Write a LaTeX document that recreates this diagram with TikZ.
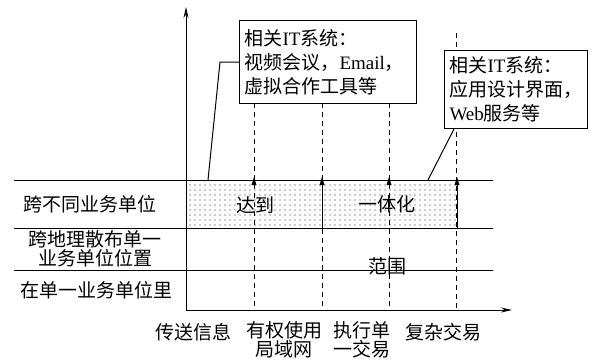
\documentclass[tikz,border=0pt]{standalone}
\usepackage{fontspec}
\setmainfont{Noto Sans CJK SC}
\newfontfamily\latin{Liberation Serif}
\usetikzlibrary{arrows.meta,patterns.meta}
\tikzset{
  lbl/.style={font=\fontsize{19}{19}\selectfont, align=center, inner sep=0pt},
  itbox/.style={draw, fill=white, anchor=north west, align=left, inner xsep=5pt,
    inner ysep=0pt, font=\fontsize{19}{24}\selectfont},
  dashline/.style={line width=1pt, dash pattern=on 5pt off 4pt},
}
\begin{document}
\begin{tikzpicture}[x=1pt,y=-1pt,line width=1pt]
      \useasboundingbox (0,0) rectangle (594,360);
      \coordinate (org) at (186,310);
      \coordinate (ytop) at (186,7);
      \coordinate (xend) at (512,310);
      \coordinate (pa) at (208,180);
      \coordinate (pb) at (428,180);

      % shaded band
      \fill[pattern={Dots[distance=5pt,radius=0.6pt]}, pattern color=black!85]
        (186,180) rectangle (457,228);

      % levels
      \foreach \y in {180,228,270}
        \draw (14,\y) -- (493,\y);

      % steps
      \draw[dashline] (456,33) -- (456,310);
      \foreach \x in {254,322,389}
        \draw[dashline] (\x,103) -- (\x,310);
      \draw (322,180) -- (322,228);
      \draw (457,180) -- (457,228);
      \foreach \x in {254,322,389,457}
        \fill (\x-2.5,185) -- (\x,177) -- (\x+2.5,185) -- cycle;

      % axes
      \draw[-{Stealth[length=11pt,width=5pt]}] (org) -- (ytop);
      \draw[-{Stealth[length=11pt,width=5pt]}] (org) -- (xend);

      % IT boxes
      \node[itbox, text width=167pt, minimum height=83pt] (boxa) at (239,20)
        {相关{\latin IT}系统：\\视频会议，{\latin Email}，\\虚拟合作工具等};
      \node[itbox, text width=133pt, minimum height=78pt] (boxb) at (444,50)
        {相关{\latin IT}系统：\\应用设计界面，\\{\latin Web}服务等};
      \draw (boxa.west) -- ++(-19,0) -- (pa);
      \draw ([xshift=10pt]boxb.south west) -- (pb);

      % row labels
      \node[lbl] (cross) at (90,204) {跨不同业务单位};
      \node[lbl] (geo) at (95,249) {跨地理散布单一\\业务单位位置};
      \node[lbl] (single) at (96,290) {在单一业务单位里};

      % column labels
      \node[lbl] (send) at (193,332) {传送信息};
      \node[lbl] (lan) at (284,340) {有权使用\\局域网};
      \node[lbl] (exec) at (362,340) {执行单\\一交易};
      \node[lbl] (cplx) at (443,332) {复杂交易};

      % scope words
      \node[lbl] (reach) at (255,205) {达到};
      \node[lbl] (integ) at (387,204) {一体化};
      \node[lbl] (scope) at (387,266) {范围};
    \end{tikzpicture}
\end{document}
